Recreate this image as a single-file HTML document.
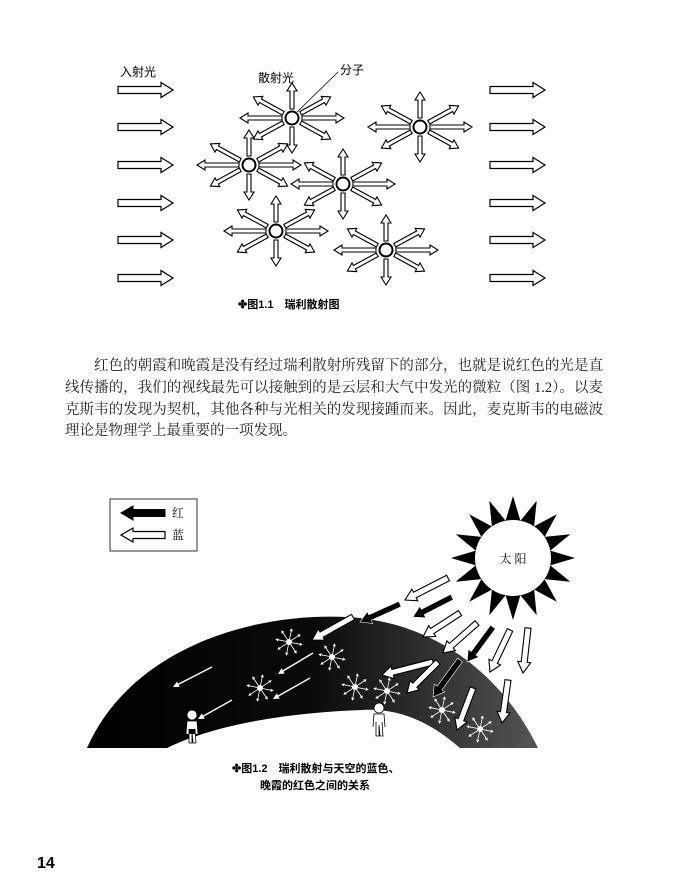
<!DOCTYPE html>
<html><head><meta charset="utf-8">
<style>
body{margin:0;background:#fff;width:681px;height:888px;overflow:hidden;position:relative;font-family:"Liberation Serif","Noto Serif CJK SC",serif;}
svg{position:absolute;left:0;top:0}
.p{position:absolute;left:65px;width:538px;font-size:14.5px;line-height:20px;color:#222;text-align:justify;text-align-last:justify;white-space:nowrap}
</style></head><body>
<svg id="s" width="681" height="888" viewBox="0 0 681 888">
<defs>
<linearGradient id="g" x1="0" x2="1" y1="0" y2="0">
<stop offset="0" stop-color="#000"/><stop offset="0.5" stop-color="#0a0a0a"/><stop offset="1" stop-color="#555"/>
</linearGradient>
</defs>
<g id="topg"></g>
<text x="120" y="76" font-family="Liberation Sans,Noto Sans CJK SC,sans-serif" font-size="12">入射光</text>
<text x="258" y="82" font-family="Liberation Sans,Noto Sans CJK SC,sans-serif" font-size="12">散射光</text>
<text x="340" y="74" font-family="Liberation Sans,Noto Sans CJK SC,sans-serif" font-size="12">分子</text>
<line x1="297" y1="112" x2="338" y2="72" stroke="#000" stroke-width="0.8"/>
<text x="238" y="308" font-family="Liberation Sans,Noto Sans CJK SC,sans-serif" font-size="11" font-weight="bold">✤图1.1　瑞利散射图</text>
<path d="M87,748 C130,650 250,612 347,617 C440,622 505,680 538,748 L460,748 C430,722 400,708 363,710 C300,712 220,722 167,748 Z" fill="url(#g)"/>
<rect x="110" y="499" width="87" height="52" fill="#fff" stroke="#333" stroke-width="1"/>
<g id="botg"></g>
<text x="172" y="517" font-size="12">红</text>
<text x="172" y="539" font-size="12">蓝</text>
<circle cx="513" cy="558" r="38" fill="#fff"/>
<text x="513" y="563" font-size="12" text-anchor="middle">太 阳</text>
<text x="232" y="772" font-family="Liberation Sans,Noto Sans CJK SC,sans-serif" font-size="11" font-weight="bold">✤图1.2　瑞利散射与天空的蓝色、</text>
<text x="260" y="789" font-family="Liberation Sans,Noto Sans CJK SC,sans-serif" font-size="11" font-weight="bold">晚霞的红色之间的关系</text>
<text x="37" y="868" font-family="Liberation Sans,sans-serif" font-size="16" font-weight="bold">14</text>
</svg>
<div class="p" style="top:356px;left:94px;width:509px">红色的朝霞和晚霞是没有经过瑞利散射所残留下的部分，也就是说红色的光是直</div>
<div class="p" style="top:378px">线传播的，我们的视线最先可以接触到的是云层和大气中发光的微粒（图 1.2）。以麦</div>
<div class="p" style="top:400px">克斯韦的发现为契机，其他各种与光相关的发现接踵而来。因此，麦克斯韦的电磁波</div>
<div class="p" style="top:421px;text-align-last:left">理论是物理学上最重要的一项发现。</div>
<script>
(function(){
var NS="http://www.w3.org/2000/svg";
function el(p,t,a){var e=document.createElementNS(NS,t);for(var k in a)e.setAttribute(k,a[k]);p.appendChild(e);return e;}
function arrow(p,x,y,ang,L,w,h,hl,fill,stroke,sw){
 var pts=[[0,-w],[L-hl,-w],[L-hl,-h],[L,0],[L-hl,h],[L-hl,w],[0,w]];
 var c=Math.cos(ang),s=Math.sin(ang);
 var str=pts.map(function(q){return (x+q[0]*c-q[1]*s).toFixed(1)+","+(y+q[0]*s+q[1]*c).toFixed(1)}).join(" ");
 el(p,"polygon",{points:str,fill:fill,stroke:stroke,"stroke-width":sw});
}
function fromTo(p,x1,y1,x2,y2,w,h,hl,fill,stroke,sw){
 var L=Math.hypot(x2-x1,y2-y1);arrow(p,x1,y1,Math.atan2(y2-y1,x2-x1),L,w,h,hl,fill,stroke,sw);
}
var tg=document.getElementById("topg");
[90,127,165,203,240,278].forEach(function(y){
 arrow(tg,118,y,0,55,3.5,7.5,12,"#fff","#000",1.2);
 arrow(tg,490,y,0,55,3.5,7.5,12,"#fff","#000",1.2);
});
[[292,118],[420,127],[249,165],[343,184],[276,231],[386,250]].forEach(function(m){
 var x=m[0],y=m[1],r=6.5;
 var dirs=[[0,10,42],[Math.PI,10,42],[-Math.PI/2,9,26],[Math.PI/2,9,26],[-0.5,10,34],[0.5,10,34],[Math.PI+0.5,10,34],[Math.PI-0.5,10,34]];
 dirs.forEach(function(d){var a=d[0];arrow(tg,x+d[1]*Math.cos(a),y+d[1]*Math.sin(a),a,d[2],2,5,8,"#fff","#000",1.1);});
 el(tg,"circle",{cx:x,cy:y,r:r,fill:"#fff",stroke:"#000","stroke-width":2});
});
var bg=document.getElementById("botg");
arrow(bg,165,513,Math.PI,44,3.5,7,12,"#000","#000",1);
arrow(bg,165,535,Math.PI,44,3.5,7,12,"#fff","#000",1.2);
var sp=[];for(var i=0;i<32;i++){var a=i*Math.PI/16,r=(i%2==0)?62:38;sp.push((513+r*Math.cos(a)).toFixed(1)+","+(558+r*Math.sin(a)).toFixed(1));}
el(bg,"polygon",{points:sp.join(" "),fill:"#000"});
var rays=[
[448,578,405,600,"w"],[452,597,413,617,"b"],[400,604,360,622,"b"],[353,617,312,640,"w"],
[460,613,423,637,"w"],[477,623,443,653,"w"],[493,627,467,662,"b"],[510,630,490,672,"w"],[528,628,523,673,"w"],
[433,662,382,675,"w"],[438,662,407,693,"w"],[460,660,433,697,"b"],[473,688,457,730,"w"],[508,680,502,723,"w"]];
rays.forEach(function(r){fromTo(bg,r[0],r[1],r[2],r[3],3,6.5,11,r[4]=="w"?"#fff":"#000",r[4]=="w"?"#000":"#fff",r[4]=="w"?1.1:0.6);});
[[212,667,173,687],[313,653,278,674],[310,678,273,699],[232,700,198,719]].forEach(function(r){fromTo(bg,r[0],r[1],r[2],r[3],0.7,3,6,"#fff","none",0);});
[[289,642],[332,657],[260,688],[355,687],[387,691],[442,710],[480,729]].forEach(function(m){
 for(var i=0;i<8;i++){var a=i*Math.PI/4+0.2;arrow(bg,m[0]+3*Math.cos(a),m[1]+3*Math.sin(a),a,11,0.4,1.6,3,"#fff","none",0);}
 el(bg,"circle",{cx:m[0],cy:m[1],r:3,fill:"#fff"});
});
[[192,715],[379,708]].forEach(function(p){
 var x=p[0],y=p[1];
 el(bg,"circle",{cx:x,cy:y,r:5,fill:"#fff",stroke:"#000","stroke-width":0.8});
 el(bg,"path",{d:"M"+(x-6)+","+(y+19)+" L"+(x-5)+","+(y+6)+" L"+(x+5)+","+(y+6)+" L"+(x+6)+","+(y+19)+" M"+(x-3)+","+(y+14)+" L"+(x-3)+","+(y+28)+" L"+x+","+(y+28)+" L"+x+","+(y+17)+" L"+(x+1)+","+(y+28)+" L"+(x+4)+","+(y+28)+" L"+(x+3)+","+(y+14),fill:"#fff",stroke:"#000","stroke-width":0.8});
});
})();
</script>
</body></html>
